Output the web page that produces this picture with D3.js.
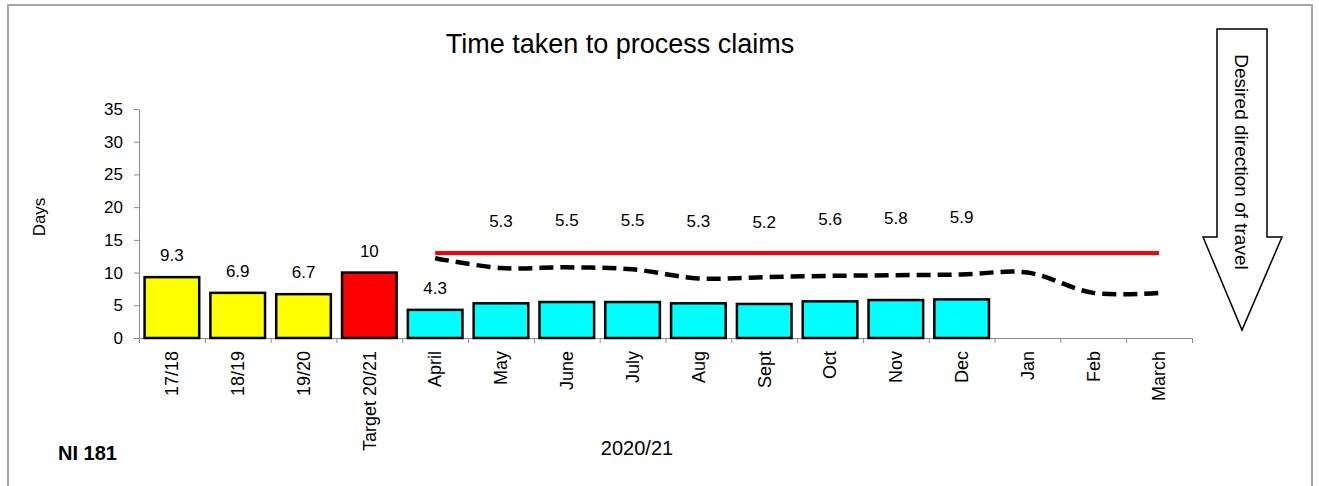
<!DOCTYPE html>
<html>
<head>
<meta charset="utf-8">
<script src="https://cdn.jsdelivr.net/npm/d3@7"></script>
<style>
	body { margin: 0; background: #fff; }
	text { font-family: "Liberation Sans", Arial, sans-serif; fill: #000; }
</style>
</head>
<body>
<script>
// categories along the x axis
const categories = ["17/18", "18/19", "19/20", "Target 20/21", "April", "May", "June", "July", "Aug", "Sept", "Oct", "Nov", "Dec", "Jan", "Feb", "March"];
// bar values (null = no bar yet)
const barValues = [9.3, 6.9, 6.7, 10, 4.3, 5.3, 5.5, 5.5, 5.3, 5.2, 5.6, 5.8, 5.9, null, null, null];
// bar kinds: previous years, target, monthly
const barKinds = ["year", "year", "year", "target", "month", "month", "month", "month", "month", "month", "month", "month", "month", "month", "month", "month"];
// monthly months (line series x)
const months = ["April", "May", "June", "July", "Aug", "Sept", "Oct", "Nov", "Dec", "Jan", "Feb", "March"];
// red target line
const targetLine = [13, 13, 13, 13, 13, 13, 13, 13, 13, 13, 13, 13];
// dashed black comparison line
const trendLine = [12.2, 10.7, 10.8, 10.5, 9.1, 9.3, 9.5, 9.6, 9.7, 10.0, 6.9, 6.9];
// y tick labels
const yTicks = [0, 5, 10, 15, 20, 25, 30, 35];

const w = 1319;
const h = 486;

const colors = { year: "#ffff00", target: "#ff0000", month: "#00ffff" };

const svg = d3.select("body").append("svg").attr("width", w).attr("height", h);

// outer frame
svg.append("rect")
	.attr("x", 8).attr("y", 5)
	.attr("width", 1304).attr("height", 520)
	.attr("fill", "none")
	.attr("stroke", "#a6a6a6")
	.attr("stroke-width", 2);

// title
svg.append("text")
	.attr("x", 620).attr("y", 53)
	.attr("text-anchor", "middle")
	.style("font-size", "27px")
	.text("Time taken to process claims");

// scales
const x = d3.scaleBand()
	.domain(categories)
	.range([139, 1192])
	.paddingInner(0.17)
	.paddingOuter(0.085);

const y = d3.scaleLinear().domain([0, 35]).range([338, 109]);

// boundaries between categories for the tick marks
const xEdges = d3.scaleLinear().domain([0, categories.length]).range([139, 1192]);

// y axis
const yAxis = svg.append("g")
	.attr("transform", "translate(139,0)")
	.call(d3.axisLeft(y).tickValues(yTicks).tickSize(5).tickPadding(11).tickSizeOuter(0));
yAxis.select(".domain").attr("stroke", "#8c8c8c");
yAxis.selectAll(".tick line").attr("stroke", "#8c8c8c");
yAxis.selectAll(".tick text").style("font-size", "17px").attr("fill", "#000");

// x axis line with tick marks at category edges
const xAxis = svg.append("g")
	.attr("transform", "translate(0,338)")
	.call(d3.axisBottom(xEdges).tickValues(d3.range(categories.length + 1)).tickSize(5).tickSizeOuter(0).tickFormat(""));
xAxis.select(".domain").attr("stroke", "#8c8c8c");
xAxis.selectAll(".tick line").attr("stroke", "#8c8c8c");

// rotated category labels
svg.append("g")
	.selectAll("text")
	.data(categories)
	.join("text")
	.attr("transform", (d) => `translate(${x(d) + x.bandwidth() / 2},351) rotate(-90)`)
	.attr("text-anchor", "end")
	.attr("dy", "0.35em")
	.style("font-size", "18px")
	.text((d) => d);

// bars
const barData = categories.map((c, i) => ({ c, v: barValues[i], kind: barKinds[i], i }))
	.filter((d) => d.v !== null);

svg.append("g")
	.selectAll("rect")
	.data(barData)
	.join("rect")
	.attr("x", (d) => x(d.c))
	.attr("y", (d) => y(d.v))
	.attr("width", x.bandwidth())
	.attr("height", (d) => y(0) - y(d.v))
	.attr("fill", (d) => colors[d.kind])
	.attr("stroke", "#000")
	.attr("stroke-width", 2.5);

// value labels: first five sit on their bar, the rest are raised above the lines
svg.append("g")
	.selectAll("text")
	.data(barData)
	.join("text")
	.attr("x", (d) => x(d.c) + x.bandwidth() / 2)
	.attr("y", (d) => d.i < 5 ? y(d.v) - 16 : y(d.v) - 76)
	.attr("text-anchor", "middle")
	.style("font-size", "17px")
	.text((d) => d.v);

// lines
const lineX = (d, i) => x(months[i]) + x.bandwidth() / 2;

svg.append("path")
	.datum(targetLine)
	.attr("fill", "none")
	.attr("stroke", "#ff0000")
	.attr("stroke-width", 4)
	.attr("d", d3.line().x(lineX).y((d) => y(d)));

svg.append("path")
	.datum(trendLine)
	.attr("fill", "none")
	.attr("stroke", "#000")
	.attr("stroke-width", 4.5)
	.attr("stroke-dasharray", "14,7")
	.attr("d", d3.line().x(lineX).y((d) => y(d)).curve(d3.curveCatmullRom.alpha(0.5)));

// axis titles and notes
svg.append("text")
	.attr("transform", "translate(45,217) rotate(-90)")
	.attr("text-anchor", "middle")
	.style("font-size", "17px")
	.text("Days");

svg.append("text")
	.attr("x", 58).attr("y", 460)
	.style("font-size", "20px")
	.style("font-weight", "bold")
	.text("NI 181");

svg.append("text")
	.attr("x", 637).attr("y", 455)
	.attr("text-anchor", "middle")
	.style("font-size", "20px")
	.text("2020/21");

// desired direction arrow
const arrow = [[1217, 29], [1267, 29], [1267, 237], [1282, 237], [1242, 330], [1203, 237], [1217, 237]];
svg.append("path")
	.attr("d", d3.line()(arrow) + "Z")
	.attr("fill", "#fff")
	.attr("stroke", "#000")
	.attr("stroke-width", 1.5);

svg.append("text")
	.attr("transform", "translate(1242,162) rotate(90)")
	.attr("text-anchor", "middle")
	.attr("dy", "0.35em")
	.style("font-size", "19px")
	.text("Desired direction of travel");
</script>
</body>
</html>
